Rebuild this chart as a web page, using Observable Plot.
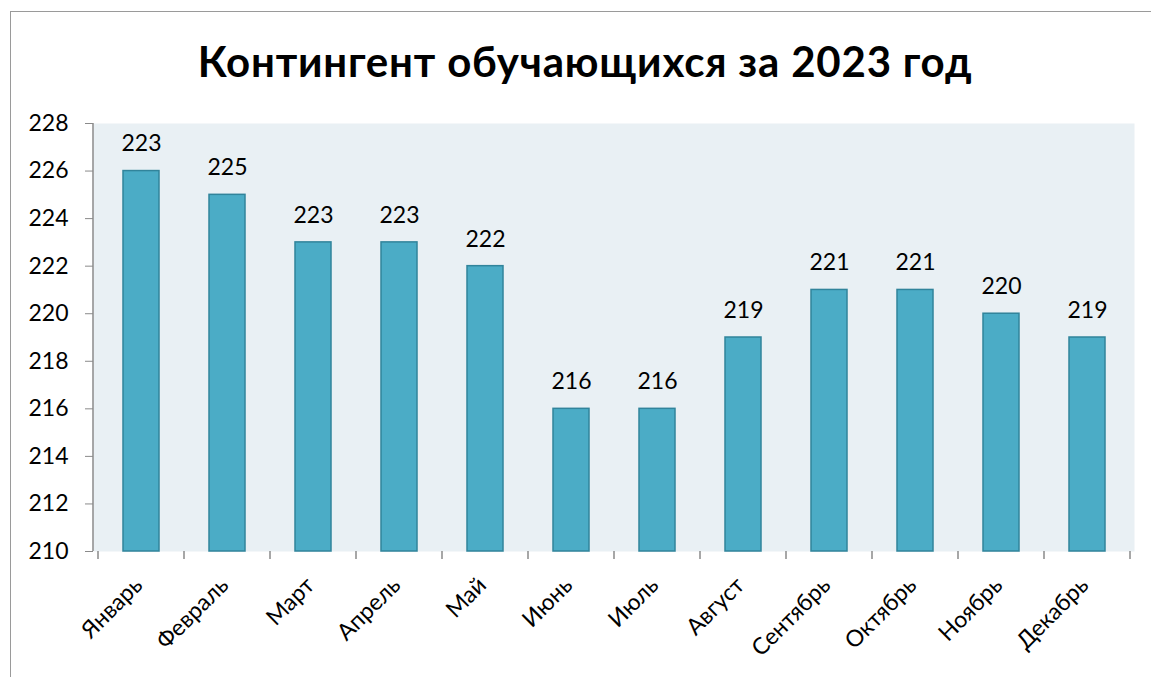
<!DOCTYPE html>
<html>
<head>
<meta charset="utf-8">
<script src="https://cdn.jsdelivr.net/npm/d3@7"></script>
<script src="https://cdn.jsdelivr.net/npm/@observablehq/plot@0.6"></script>
<style>
  html, body { margin: 0; padding: 0; background: #fff; overflow: hidden; width: 1151px; height: 677px; }
  #frame { position: absolute; left: 10px; top: 11px; width: 1200px; height: 800px; border: 1.5px solid #9a9a9a; box-sizing: border-box; }
  #title { position: absolute; left: 10px; width: 1150px; top: 36px; text-align: center; font-family: Lato, sans-serif; font-weight: bold; font-size: 42px; letter-spacing: 0.8px; color: #000; line-height: 50px; }
  #chart { position: absolute; left: 0; top: 0; }
</style>
</head>
<body>
<div id="frame"></div>
<div id="title">Контингент обучающихся за 2023 год</div>
<div id="chart"></div>
<script>
const months = ["Январь","Февраль","Март","Апрель","Май","Июнь","Июль","Август","Сентябрь","Октябрь","Ноябрь","Декабрь"];
const values = [226, 225, 223, 223, 222, 216, 216, 219, 221, 221, 220, 219];
const labels = [223, 225, 223, 223, 222, 216, 216, 219, 221, 221, 220, 219];
const yTicks = [210, 212, 214, 216, 218, 220, 222, 224, 226, 228];

const data = months.map((m, i) => ({month: m, value: values[i], label: labels[i]}));

const gridColor = "#8a8a8a";
const font = "Lato, sans-serif";

function boundaryTicks(index, scales, values, dimensions) {
  const x = scales.x;
  const step = x(months[1]) - x(months[0]);
  const bw = typeof x.bandwidth === "function" ? x.bandwidth() : step * 0.415;
  const y0 = dimensions.height - dimensions.marginBottom;
  const g = d3.create("svg:g");
  const pos = months.map(m => x(m) + bw / 2 - step / 2);
  pos.push(x(months[months.length - 1]) + bw / 2 + step / 2);
  g.selectAll("line.t").data(pos).join("line")
    .attr("class", "t")
    .attr("x1", d => d).attr("x2", d => d)
    .attr("y1", y0).attr("y2", y0 + 8)
    .attr("stroke", gridColor).attr("stroke-width", 1.5);
  // left vertical axis line
  g.append("line")
    .attr("x1", dimensions.marginLeft).attr("x2", dimensions.marginLeft)
    .attr("y1", dimensions.marginTop).attr("y2", y0)
    .attr("stroke", gridColor).attr("stroke-width", 1.5);
  return g.node();
}

const chart = Plot.plot({
  width: 1151,
  height: 677,
  marginLeft: 93,
  marginRight: 17,
  marginTop: 123,
  marginBottom: 126,
  style: {fontFamily: font, background: "transparent", color: "#000"},
  x: {domain: months, paddingInner: 0.585, paddingOuter: 0.2925, label: null},
  y: {domain: [210, 228], label: null},
  marks: [
    Plot.frame({fill: "#e9f0f4", stroke: null}),
    Plot.gridY(yTicks, {stroke: gridColor, strokeOpacity: 1, strokeWidth: 1.5, x1: 85}),
    Plot.barY(data, {x: "month", y1: 210, y2: "value", fill: "#4bacc6", stroke: "#31849b", strokeWidth: 1.5}),
    Plot.text(data, {x: "month", y: "value", text: d => String(d.label), dy: -27, fontSize: 23, fill: "#000", lineAnchor: "middle"}),
    Plot.axisY({ticks: yTicks, tickSize: 8, tickPadding: 17, stroke: gridColor, fontSize: 23, tickFormat: d => String(d), fill: "#000"}),
    Plot.axisX({tickSize: 0, tickRotate: -45, tickPadding: 30, dx: -3, fontSize: 23, fill: "#000"}),
    boundaryTicks
  ]
});
document.getElementById("chart").appendChild(chart);
</script>
</body>
</html>
